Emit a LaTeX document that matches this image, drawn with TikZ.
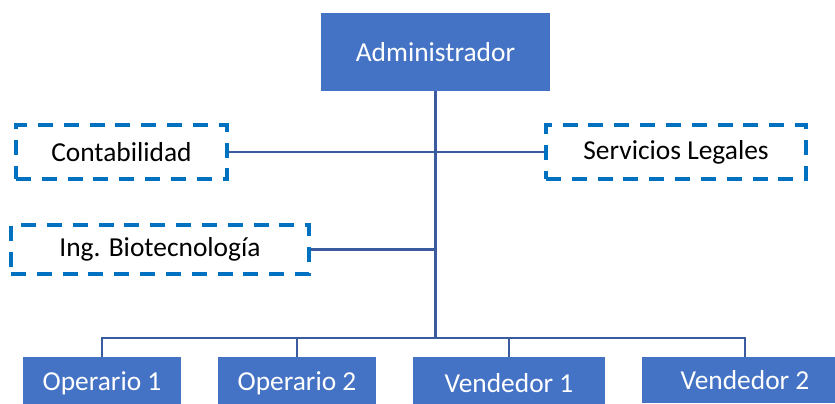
\documentclass[tikz,border=0pt]{standalone}
\usepackage{fontspec}
\setmainfont{Carlito}
\usetikzlibrary{positioning,calc}
\definecolor{boxblue}{HTML}{4472C4}
\definecolor{dashblue}{HTML}{0070C0}
\definecolor{lineblue}{HTML}{3A5C9F}

\begin{document}
\begin{tikzpicture}[
  font=\fontsize{15.6}{18}\selectfont,
  solidbox/.style={rectangle, fill=boxblue, text=white, inner sep=0pt, align=center},
  dashbox/.style={rectangle, draw=dashblue, line width=2.1pt, dash pattern=on 8.5pt off 6.2pt, fill=white, text=black, inner sep=0pt, align=center},
  orgline/.style={draw=lineblue, line width=1.4pt},
]
\clip (0,0) rectangle (16.7,8.08);
% top
\node[solidbox,minimum width=4.58cm,minimum height=1.56cm] (admin) at (8.71,7.04) {Administrador};
% staff
\node[dashbox,minimum width=4.22cm,minimum height=1.08cm] (cont) at (2.43,5.04) {Contabilidad};
\node[dashbox,minimum width=5.2cm,minimum height=1.08cm] (serv) at (13.52,5.04) {Servicios Legales};
\node[dashbox,minimum width=5.96cm,minimum height=0.98cm] (ing) at (3.2,3.09) {Ing. Biotecnología};
% bottom row
\node[solidbox,minimum width=3.16cm,minimum height=1.04cm] (op1) at (2.04,0.42) {Operario 1};
\node[solidbox,minimum width=3.16cm,minimum height=1.04cm] (op2) at (5.94,0.42) {Operario 2};
\node[solidbox,minimum width=3.84cm,minimum height=1.04cm] (vend1) at (10.18,0.42) {Vendedor 1};
\node[solidbox,minimum width=4.12cm,minimum height=0.92cm] (vend2) at (14.9,0.48) {Vendedor 2};
\coordinate (bus) at (8.71,1.32);
% connectors
\draw[orgline] (admin.south) -- (bus);
\draw[orgline] (cont.east) -- (serv.west);
\draw[orgline] (ing.east) -- (ing.east -| bus);
\draw[orgline] (op1.north) |- (bus) -| (vend2.north);
\draw[orgline] (op2.north) -- (op2.north |- bus);
\draw[orgline] (vend1.north) -- (vend1.north |- bus);
\end{tikzpicture}
\end{document}
